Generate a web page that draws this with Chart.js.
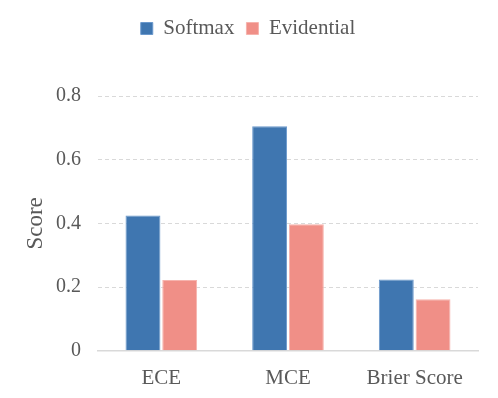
<!DOCTYPE html>
<html>
<head>
<meta charset="utf-8">
<script src="https://cdn.jsdelivr.net/npm/chart.js@4"></script>
<style>
  html, body { margin: 0; padding: 0; background: #fff; }
  #wrap { width: 498px; height: 398px; }
</style>
</head>
<body>
<div id="wrap"><canvas id="scoreChart" width="498" height="398"></canvas></div>
<script>
const categories = ['ECE', 'MCE', 'Brier Score'];
const softmaxScores = [0.425, 0.705, 0.224];
const evidentialScores = [0.222, 0.397, 0.162];

const fontFamily = '"Liberation Serif", "Times New Roman", serif';
const textColor = '#595959';

const ctx = document.getElementById('scoreChart').getContext('2d');
new Chart(ctx, {
    type: 'bar',
    data: {
        labels: categories,
        datasets: [
            {
                label: 'Softmax',
                data: softmaxScores,
                backgroundColor: '#3f76b0',
                borderColor: '#6a98cc',
                borderWidth: 1,
                barPercentage: 0.95,
                categoryPercentage: 0.58
            },
            {
                label: 'Evidential',
                data: evidentialScores,
                backgroundColor: '#f08f87',
                borderColor: '#f6b3ad',
                borderWidth: 1,
                barPercentage: 0.95,
                categoryPercentage: 0.58
            }
        ]
    },
    options: {
        responsive: false,
        animation: false,
        layout: { padding: { top: 6, right: 20, left: 18, bottom: 0 } },
        plugins: {
            legend: {
                position: 'top',
                labels: {
                    boxWidth: 12,
                    boxHeight: 12,
                    color: textColor,
                    padding: 12,
                    font: { family: fontFamily, size: 21 }
                }
            },
            tooltip: { enabled: false }
        },
        scales: {
            x: {
                grid: { display: false },
                border: { display: true, color: '#d9d9d9', width: 1.5 },
                ticks: { color: textColor, padding: 7, font: { family: fontFamily, size: 21 } }
            },
            y: {
                min: 0,
                max: 0.8,
                ticks: { stepSize: 0.2, color: textColor, padding: 17, font: { family: fontFamily, size: 20 } },
                grid: { color: '#d9d9d9', drawTicks: false },
                border: { display: false, dash: [4, 3] },
                title: {
                    display: true,
                    text: 'Score',
                    color: textColor,
                    font: { family: fontFamily, size: 23 }
                },
                afterFit: (scale) => { scale.width = 80; }
            }
        }
    },
    plugins: [{
        id: 'legendGap',
        beforeInit(chart) {
            const origFit = chart.legend.fit;
            chart.legend.fit = function () {
                origFit.bind(chart.legend)();
                this.height += 47;
            };
        }
    }]
});
</script>
</body>
</html>
